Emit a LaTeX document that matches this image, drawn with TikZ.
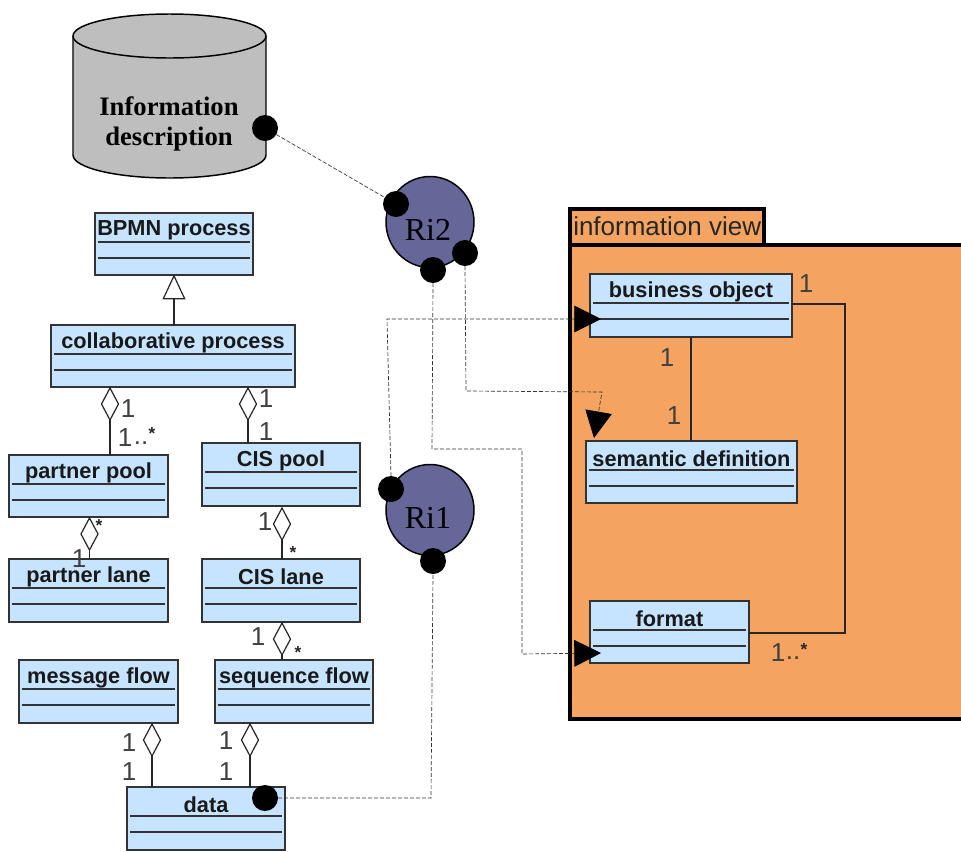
\documentclass[tikz,border=0pt]{standalone}
\usepackage{fontspec}
\setmainfont{Liberation Serif}
\setsansfont{Liberation Sans}
\usetikzlibrary{shapes.geometric,arrows.meta,calc}
\definecolor{boxblue}{HTML}{C6E4FF}
\definecolor{pkgorange}{HTML}{F4A460}
\definecolor{ripurple}{HTML}{666699}
\definecolor{cylgray}{HTML}{BEBEBE}
\tikzset{
  x=0.75pt,y=-0.75pt,
  classbox/.style={draw=black!80,line width=1.1pt,fill=boxblue,inner sep=0pt,outer sep=0pt,anchor=north west},
  classname/.style={font=\sffamily\bfseries\fontsize{16.3}{16.3}\selectfont,inner sep=0pt,text=black!90},
  comp/.style={draw=black!80,line width=0.9pt},
  agg/.style={diamond,draw=black!85,fill=white,line width=0.9pt,minimum width=17*0.75pt,minimum height=32*0.75pt,aspect=0.53,inner sep=0pt,outer sep=0pt},
  assoc/.style={draw=black!85,line width=1pt},
  mult/.style={font=\sffamily\fontsize{19.5}{19.5}\selectfont,inner sep=0pt,text=black!75},
  star/.style={font=\sffamily\bfseries\fontsize{13}{13}\selectfont,inner sep=0pt,text=black!85},
  port/.style={circle,fill=black,minimum size=26*0.75pt,inner sep=0pt,outer sep=0pt},
  role/.style={ellipse,draw=black,fill=ripurple,line width=1.1pt,minimum width=88*0.75pt,minimum height=91*0.75pt,inner sep=0pt},
  rolename/.style={inner sep=0pt,font=\rmfamily\fontsize{24}{24}\selectfont},
  link/.style={draw=black!80,line width=0.5pt,dash pattern=on 3pt off 1.5pt},
  linkarrow/.style={link,-{Triangle[length=20pt,width=20pt,color=black]}},
}
% name, x1, y1, x2, y2, label
\newcommand{\umlbox}[6]{%
  \node[classbox,minimum width={(#4-#2)*0.75pt},minimum height={(#5-#3)*0.75pt}] (#1) at (#2,#3) {};
  \node[classname] (#1name) at ({(#2+#4)/2},#3+17.5) {#6};
  \draw[comp] (#2+3,#3+29) -- (#4-3,#3+29);
  \draw[comp] (#2+3,#3+45) -- (#4-3,#3+45);
}
\begin{document}
\begin{tikzpicture}
\clip (0,0) rectangle (961,851);
% cylinder
\draw[fill=cylgray,draw=black,line width=1.1pt]
  (73,36) -- (73,155) arc[start angle=180,end angle=360,x radius=96.5,y radius=-23] -- (266,36)
  arc[start angle=0,end angle=180,x radius=96.5,y radius=-22] -- cycle;
\draw[black,line width=1.1pt] (73,36) arc[start angle=180,end angle=360,x radius=96.5,y radius=-22];
\node[font=\rmfamily\bfseries\fontsize{20}{23}\selectfont,align=center,inner sep=0pt] (infodesc) at (169,124) {Information\\description};
% package
\draw[fill=pkgorange,draw=black,line width=2.3pt] (570,209) rectangle (764,245);
\draw[fill=pkgorange,draw=black,line width=2.3pt] (570,245) rectangle (975,719);
\node[font=\sffamily\fontsize{19.5}{19.5}\selectfont,inner sep=0pt,anchor=west,text=black!85] (pkgname) at (573,226) {information view};
% classes
\umlbox{bpmn}{95}{213}{253}{275}{BPMN process}
\umlbox{collab}{51}{325}{295}{387}{collaborative process}
\umlbox{ppool}{9}{455}{168}{517}{partner pool}
\umlbox{cispool}{202}{443}{360}{506}{CIS pool}
\umlbox{plane}{9}{559}{168}{622}{partner lane}
\umlbox{cislane}{202}{559}{360}{622}{CIS lane}
\umlbox{msg}{19}{660}{178}{723}{message flow}
\umlbox{seq}{215}{660}{373}{723}{sequence flow}
\umlbox{data}{127}{787}{285}{850}{data}
\umlbox{bo}{590}{274}{792}{337}{business object}
\umlbox{sem}{586}{441}{797}{503}{semantic definition}
\umlbox{fmt}{590}{601}{749}{663}{format}
% generalisation
\node[isosceles triangle,isosceles triangle apex angle=50,shape border rotate=90,draw=black!85,fill=white,line width=0.9pt,minimum height=23*0.75pt,inner sep=0pt,outer sep=0pt] (gen) at (174,292) {};
\draw[assoc] (gen.south) -- (gen.south |- collab.north);
% aggregations
\node[agg] (a1) at (110,404) {};
\draw[assoc] (a1.south) -- (a1.south |- ppool.north);
\node[agg] (a2) at (248,404) {};
\draw[assoc] (a2.south) -- (a2.south |- cispool.north);
\node[agg] (a3) at (89.5,534) {};
\draw[assoc] (a3.south) -- (a3.south |- plane.north);
\node[agg] (a4) at (282,524) {};
\draw[assoc] (a4.south) -- (a4.south |- cislane.north);
\node[agg] (a5) at (282,639) {};
\draw[assoc] (a5.south) -- (a5.south |- seq.north);
\node[agg] (a6) at (152,740) {};
\draw[assoc] (a6.south) -- (a6.south |- data.north);
\node[agg] (a7) at (250,740) {};
\draw[assoc] (a7.south) -- (a7.south |- data.north);
% right-hand associations
\coordinate (bobottom) at (691,337);
\coordinate (semtop) at (691,441);
\draw[assoc] (bobottom) -- (semtop);
\coordinate (boright) at (792,304);
\coordinate (fmtright) at (749,633);
\coordinate (c1) at (845,304);
\coordinate (c2) at (845,633);
\draw[assoc] (boright) -- (c1) -- (c2) -- (fmtright);
% multiplicities
\node[mult] (m1) at (128,409) {1};
\node[mult] (m2) at (125,438) {1};
\node[mult] (m2b) at (141,443) {..};
\node[star] (m2c) at (152,434) {*};
\node[mult] (m3) at (266,399) {1};
\node[mult] (m4) at (266,432) {1};
\node[star] (m5) at (99,526) {*};
\node[mult] (m6) at (79,559) {1};
\node[mult] (m7) at (265,522) {1};
\node[star] (m8) at (293,553) {*};
\node[mult] (m9) at (258,637) {1};
\node[star] (m10) at (298,653) {*};
\node[mult] (m11) at (129,743) {1};
\node[mult] (m12) at (129,772) {1};
\node[mult] (m13) at (226,741) {1};
\node[mult] (m14) at (226,772) {1};
\node[mult] (m15) at (806,284) {1};
\node[mult] (m16) at (667,358) {1};
\node[mult] (m17) at (674,416) {1};
\node[mult] (m18) at (778,653) {1};
\node[mult] (m18b) at (793,658) {..};
\node[star] (m18c) at (804,650) {*};
% role circles
\node[role] (ri2) at (430,222) {};
\node[rolename] (ri2name) at (428,230) {Ri2};
\node[role] (ri1) at (430,510) {};
\node[rolename] (ri1name) at (428,518) {Ri1};
% ports
\node[port] (pcyl) at (265,128) {};
\node[port] (pr2a) at (396,204) {};
\node[port] (pr2b) at (433,270) {};
\node[port] (pr2c) at (465,253) {};
\node[port] (pr1a) at (391,489) {};
\node[port] (pr1b) at (433,561) {};
\node[port] (pdata) at (265,798) {};
% dashed links
\coordinate (t1) at (601,319);
\coordinate (t2) at (594,438);
\coordinate (t3) at (601,653);
\coordinate (b1) at (387,319);
\coordinate (b2) at (466,391);
\coordinate (b3) at (602,392);
\coordinate (b4) at (432,449);
\coordinate (b5) at (522,449);
\coordinate (b6) at (522,654);
\coordinate (b7) at (431,798);
\draw[link] (pcyl) -- (pr2a);
\draw[linkarrow] (pr1a.north) -- (b1) -- (t1);
\draw[linkarrow] (pr2c.south) -- (b2) -- (b3) -- (t2);
\draw[linkarrow] (pr2b.south) -- (b4) -- (b5) -- (b6) -- (t3);
\draw[link] (pdata.east) -- (b7) -- (pr1b.south);
\end{tikzpicture}
\end{document}
